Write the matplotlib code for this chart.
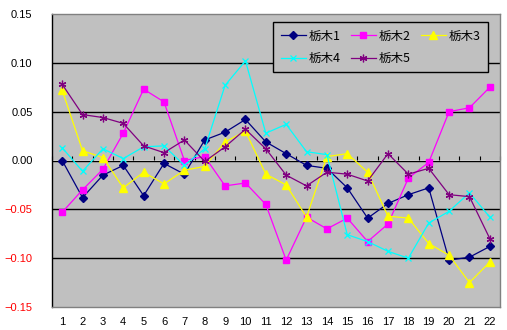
import matplotlib
matplotlib.use("Agg")
import matplotlib.pyplot as plt
import numpy as np

# category labels 1..22
cats = list(range(1, 23))

tochigi1 = [0.000, -0.038, -0.015, -0.005, -0.036, -0.003, -0.014, 0.021, 0.029, 0.042, 0.019,
            0.007, -0.005, -0.008, -0.028, -0.059, -0.044, -0.035, -0.028, -0.102, -0.099, -0.088]
tochigi2 = [-0.053, -0.030, -0.009, 0.028, 0.073, 0.060, 0.000, 0.004, -0.026, -0.023, -0.045,
            -0.102, -0.058, -0.070, -0.059, -0.083, -0.065, -0.018, -0.002, 0.050, 0.054, 0.075]
tochigi3 = [0.072, 0.010, 0.003, -0.028, -0.012, -0.024, -0.010, -0.006, 0.019, 0.030, -0.014,
            -0.025, -0.058, 0.004, 0.007, -0.012, -0.057, -0.059, -0.085, -0.097, -0.125, -0.104]
tochigi4 = [0.013, -0.011, 0.012, 0.002, 0.014, 0.015, -0.005, 0.012, 0.077, 0.102, 0.028,
            0.037, 0.009, 0.006, -0.076, -0.083, -0.093, -0.100, -0.064, -0.052, -0.033, -0.058]
tochigi5 = [0.078, 0.047, 0.044, 0.038, 0.015, 0.008, 0.021, -0.001, 0.014, 0.032, 0.012,
            -0.015, -0.026, -0.012, -0.014, -0.021, 0.007, -0.014, -0.008, -0.035, -0.037, -0.080]

names = ["栃木1", "栃木2", "栃木3", "栃木4", "栃木5"]
yticks = [-0.15, -0.10, -0.05, 0.00, 0.05, 0.10, 0.15]

W, H = 507, 330
fig = plt.figure(figsize=(W / 100, H / 100), dpi=100)
fig.patch.set_facecolor("white")
ax = fig.add_axes([52 / W, 23 / H, 448 / W, 293 / H])
ax.set_facecolor("#C0C0C0")

styles = [
    dict(color="#000080", marker="D", ms=4.3),
    dict(color="#FF00FF", marker="s", ms=4.5),
    dict(color="#FFFF00", marker="^", ms=5.2),
    dict(color="#00FFFF", marker="x", ms=4.5, mew=0.9),
    dict(color="#800080", marker=(6, 2, 0), ms=5.5, mew=0.9),
]
series = [tochigi1, tochigi2, tochigi3, tochigi4, tochigi5]
lines = []
for vals, name, st in zip(series, names, styles):
    ln, = ax.plot(cats, vals, lw=0.9, label=name, **st)
    lines.append(ln)

ax.set_xlim(0.5, 22.5)
ax.set_ylim(-0.15, 0.15)

# horizontal grid
for y in yticks[1:-1]:
    ax.axhline(y, color="black", lw=1.0, zorder=0.5)

for side in ["top", "right", "bottom"]:
    ax.spines[side].set_color("#808080")
    ax.spines[side].set_linewidth(1.0)
ax.spines["left"].set_color("black")
ax.spines["left"].set_linewidth(1.0)

tick_font = dict(family="Liberation Sans", size=8)
ax.set_yticks(yticks)
ax.set_yticklabels([f"{v:.2f}".replace("-", "\u2212") for v in yticks], **tick_font)
for lab, v in zip(ax.get_yticklabels(), yticks):
    lab.set_color("red" if v < 0 else "black")
ax.tick_params(axis="y", length=0, pad=14)

ax.set_xticks(cats)
ax.set_xticklabels([str(c) for c in cats], **tick_font)
ax.tick_params(axis="x", length=0, pad=7)

# category axis crossing at zero
sec = ax.secondary_xaxis(0.5)
sec.set_xticks(np.arange(0.5, 23, 1.0))
sec.set_xticklabels([])
sec.tick_params(axis="x", direction="out", length=3, width=0.8, color="black")
sec.spines["bottom"].set_visible(False)
sec.spines["top"].set_visible(False)

# legend filled row by row: 1 2 3 / 4 5
order = [0, 3, 1, 4, 2]
leg = ax.legend([lines[i] for i in order], [names[i] for i in order],
                loc="upper left", bbox_to_anchor=(273 / W, 1 - 22 / H),
                bbox_transform=fig.transFigure, ncol=3,
                prop=dict(family=["Noto Sans CJK JP", "DejaVu Sans"], size=9),
                frameon=True, fancybox=False, edgecolor="black", facecolor="#C0C0C0",
                framealpha=1, handlelength=2.0, handletextpad=0.25, columnspacing=0.8,
                borderpad=0.6, labelspacing=0.75, borderaxespad=0)
leg.get_frame().set_linewidth(1.0)

fig.savefig("out.png", dpi=100)
